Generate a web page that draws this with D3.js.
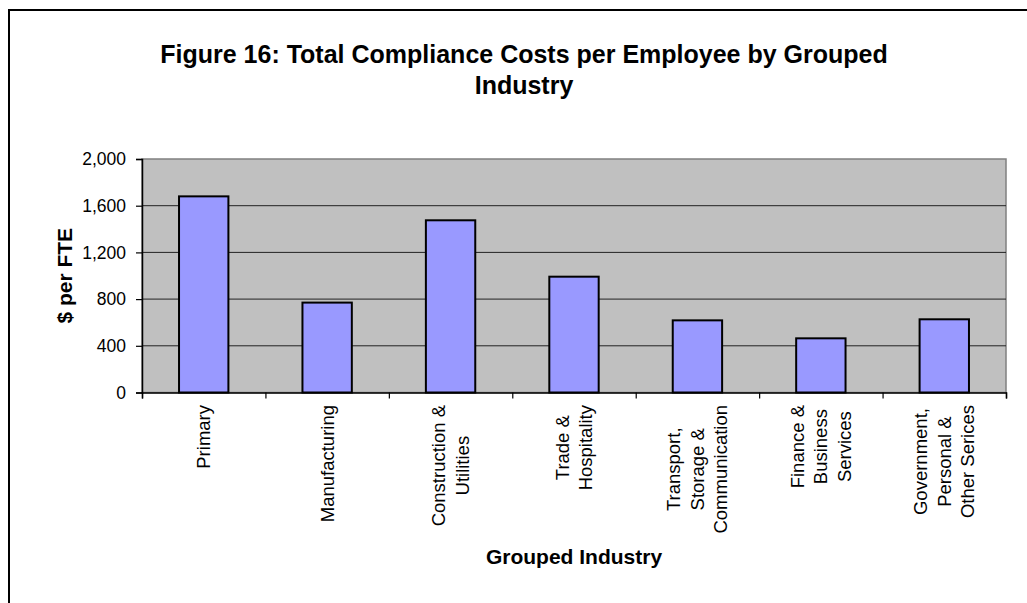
<!DOCTYPE html>
<html>
<head>
<meta charset="utf-8">
<script src="https://cdn.jsdelivr.net/npm/d3@7"></script>
<style>
  html, body { margin: 0; padding: 0; background: #fff; }
  svg { display: block; font-family: Arial, "Liberation Sans", sans-serif; }
</style>
</head>
<body>
<svg id="chart" width="1027" height="603"></svg>
<script>
// Compliance costs per full-time employee, by grouped industry
const categories = [
  ["Primary"],
  ["Manufacturing"],
  ["Construction &", "Utilities"],
  ["Trade &", "Hospitality"],
  ["Transport,", "Storage &", "Communication"],
  ["Finance &", "Business", "Services"],
  ["Government,", "Personal &", "Other Serices"]
];
const costPerFTE = [1680, 770, 1475, 992, 618, 464, 627];
const yTicks = [0, 400, 800, 1200, 1600, 2000];

const titleLines = ["Figure 16: Total Compliance Costs per Employee by Grouped", "Industry"];
const xTitle = "Grouped Industry";
const yTitle = "$ per FTE";

const svg = d3.select("#chart");

// chart-area frame
svg.append("rect")
  .attr("x", 9).attr("y", 10)
  .attr("width", 1100).attr("height", 700)
  .attr("fill", "#fff").attr("stroke", "#000").attr("stroke-width", 2);

const plot = { left: 142, right: 1006, top: 159, bottom: 392.5 };

const x = d3.scaleBand()
  .domain(d3.range(categories.length))
  .range([plot.left, plot.right])
  .paddingInner(0.6).paddingOuter(0.3);

const xEdge = d3.scaleLinear()
  .domain([0, categories.length])
  .range([plot.left, plot.right]);

const y = d3.scaleLinear()
  .domain([0, 2000])
  .range([plot.bottom, plot.top]);

// plot background
svg.append("rect")
  .attr("x", plot.left).attr("y", plot.top)
  .attr("width", plot.right - plot.left).attr("height", plot.bottom - plot.top)
  .attr("fill", "#c0c0c0").attr("stroke", "#808080").attr("stroke-width", 1.5);

// gridlines
svg.append("g")
  .selectAll("line")
  .data(yTicks.filter(t => t > 0 && t < 2000))
  .join("line")
  .attr("x1", plot.left).attr("x2", plot.right)
  .attr("y1", d => y(d)).attr("y2", d => y(d))
  .attr("stroke", "#222").attr("stroke-width", 1);

// bars
svg.append("g")
  .selectAll("rect")
  .data(costPerFTE)
  .join("rect")
  .attr("x", (d, i) => x(i))
  .attr("y", d => y(d))
  .attr("width", x.bandwidth())
  .attr("height", d => y(0) - y(d))
  .attr("fill", "#9999ff")
  .attr("stroke", "#000")
  .attr("stroke-width", 2);

// y axis
const yAxis = d3.axisLeft(y)
  .tickValues(yTicks)
  .tickFormat(d3.format(","))
  .tickSize(6)
  .tickPadding(10);
const yg = svg.append("g")
  .attr("transform", `translate(${plot.left},0)`)
  .call(yAxis);
yg.select(".domain").attr("stroke", "#000").attr("stroke-width", 1.5);
yg.selectAll(".tick line").attr("stroke", "#000").attr("stroke-width", 1.2);
yg.selectAll("text")
  .attr("font-size", 17.5)
  .attr("font-family", "Arial, 'Liberation Sans', sans-serif")
  .attr("fill", "#000");

// x axis line with ticks at category boundaries
const xAxis = d3.axisBottom(xEdge)
  .tickValues(d3.range(categories.length + 1))
  .tickSize(6)
  .tickFormat("");
const xg = svg.append("g")
  .attr("transform", `translate(0,${plot.bottom})`)
  .call(xAxis);
xg.select(".domain").attr("stroke", "#000").attr("stroke-width", 1.5);
xg.selectAll(".tick line").attr("stroke", "#000").attr("stroke-width", 1.2);

// rotated category labels, lines centred on each other
const lineStep = 23.5;
const labelTop = 405;
const labelG = svg.append("g")
  .attr("font-size", 18.5)
  .attr("fill", "#000");
categories.forEach((lines, i) => {
  const cx = x(i) + x.bandwidth() / 2;
  const grp = labelG.append("g");
  const texts = lines.map(ln => grp.append("text")
    .attr("text-anchor", "middle")
    .attr("dominant-baseline", "central")
    .text(ln));
  const maxLen = d3.max(texts, t => t.node().getComputedTextLength());
  const cy = labelTop + maxLen / 2;
  texts.forEach((t, j) => {
    const off = (j - (lines.length - 1) / 2) * lineStep;
    t.attr("transform", `translate(${cx + off},${cy}) rotate(-90)`);
  });
});

// title
svg.append("g")
  .selectAll("text")
  .data(titleLines)
  .join("text")
  .attr("x", 524)
  .attr("y", (d, i) => 63 + i * 31)
  .attr("text-anchor", "middle")
  .attr("font-size", 25)
  .attr("font-weight", "bold")
  .text(d => d);

// axis titles
svg.append("text")
  .attr("x", (plot.left + plot.right) / 2)
  .attr("y", 564)
  .attr("text-anchor", "middle")
  .attr("font-size", 21)
  .attr("font-weight", "bold")
  .text(xTitle);

svg.append("text")
  .attr("transform", `translate(72,${(plot.top + plot.bottom) / 2}) rotate(-90)`)
  .attr("text-anchor", "middle")
  .attr("font-size", 21)
  .attr("font-weight", "bold")
  .text(yTitle);
</script>
</body>
</html>
